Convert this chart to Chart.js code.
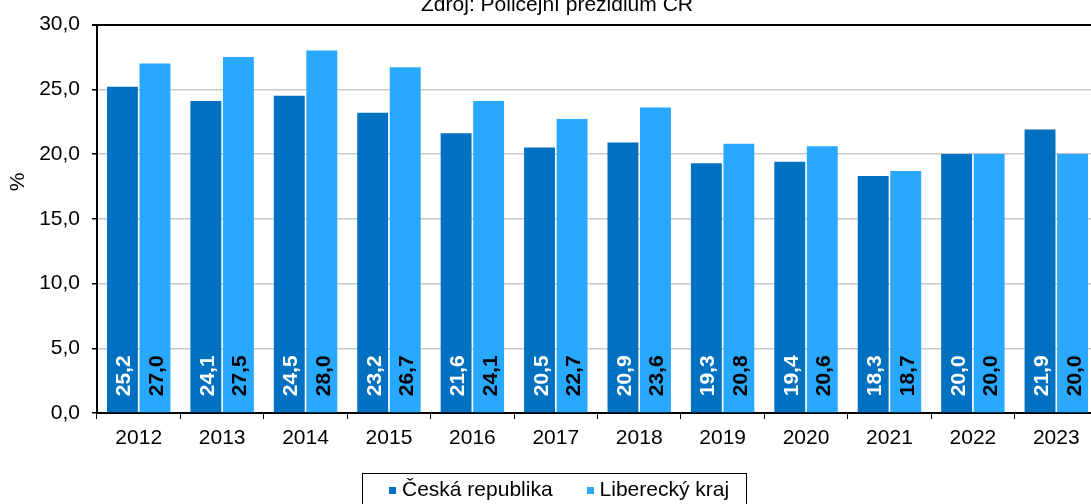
<!DOCTYPE html>
<html>
<head>
<meta charset="utf-8">
<script src="https://cdn.jsdelivr.net/npm/chart.js@4/dist/chart.umd.min.js"></script>
<style>
  html, body { margin: 0; padding: 0; overflow: hidden; background: #fff; }
  #wrap { position: relative; width: 1098px; height: 504px; }
  #legend {
    position: absolute; left: 362px; top: 473px; width: 385px; height: 40px;
    border: 1px solid #000; box-sizing: border-box;
    font: 21px "Liberation Sans", Arial, sans-serif; color: #000;
    display: flex; align-items: flex-start; justify-content: flex-start; gap: 34px;
    padding-left: 26px; padding-top: 3px;
  }
  #legend span.sw { display: inline-block; width: 7px; height: 7px; margin-right: 6px; vertical-align: 2px; }
</style>
</head>
<body>
<div id="wrap">
  <canvas id="myChart" width="1098" height="504"></canvas>
  <div id="legend"></div>
</div>
<script>
// Zdroj: Policejní prezidium ČR

const years = ['2012', '2013', '2014', '2015', '2016', '2017', '2018', '2019', '2020', '2021', '2022', '2023'];
const ceskaRepublika = [25.2, 24.1, 24.5, 23.2, 21.6, 20.5, 20.9, 19.3, 19.4, 18.3, 20.0, 21.9];
const liberecky = [27.0, 27.5, 28.0, 26.7, 24.1, 22.7, 23.6, 20.8, 20.6, 18.7, 20.0, 20.0];
const seriesNames = ['Česká republika', 'Liberecký kraj'];
const colors = ['#0070c0', '#29a8ff'];
const labelColors = ['#ffffff', '#000000'];

const fmt = v => v.toFixed(1).replace('.', ',');
const font = '"Liberation Sans", Arial, sans-serif';

const extras = {
    id: 'extras',
    afterDatasetsDraw(chart) {
        const ctx = chart.ctx;
        chart.data.datasets.forEach((ds, i) => {
            chart.getDatasetMeta(i).data.forEach((bar, j) => {
                ctx.save();
                ctx.translate(bar.x, bar.base - 16);
                ctx.rotate(-Math.PI / 2);
                ctx.font = 'bold 21px ' + font;
                ctx.fillStyle = labelColors[i];
                ctx.textAlign = 'left';
                ctx.textBaseline = 'alphabetic';
                ctx.fillText(fmt(ds.data[j]), 0, 8);
                ctx.restore();
            });
        });
    },
    afterDraw(chart) {
        const ctx = chart.ctx;
        ctx.save();
        ctx.fillStyle = '#000';
        ctx.font = '21px ' + font;
        ctx.textAlign = 'center';
        ctx.textBaseline = 'alphabetic';
        ctx.fillText('Zdroj: Policejní prezidium ČR', 557, 11);
        // y axis title
        ctx.translate(18, 182);
        ctx.rotate(-Math.PI / 2);
        ctx.textBaseline = 'middle';
        ctx.fillText('%', 0, 0);
        ctx.restore();
    }
};

function setup() {
    const ctx = document.getElementById('myChart').getContext('2d');
    new Chart(ctx, {
        type: 'bar',
        data: {
            labels: years,
            datasets: [ceskaRepublika, liberecky].map((d, i) => ({
                label: seriesNames[i],
                data: d,
                backgroundColor: colors[i],
                borderWidth: 0,
                categoryPercentage: 0.78,
                barPercentage: 0.95
            }))
        },
        options: {
            responsive: false,
            animation: false,
            layout: { padding: { top: 22, right: 0, bottom: 31, left: 0 } },
            plugins: { legend: { display: false }, tooltip: { enabled: false } },
            scales: {
                x: {
                    grid: { offset: true, drawOnChartArea: false, color: '#000', tickLength: 6 },
                    border: { color: '#000', width: 2 },
                    ticks: { color: '#000', font: { family: font, size: 21 }, padding: 7, maxRotation: 0 },
                    afterFit: s => { s.height = 60; }
                },
                y: {
                    min: 0, max: 30,
                    ticks: { stepSize: 5, color: '#000', font: { family: font, size: 21 }, padding: 12,
                             callback: v => fmt(v) },
                    grid: {
                        color: c => c.tick && c.tick.value === 30 ? '#000' : '#c8c8c8',
                        lineWidth: c => c.tick && c.tick.value === 30 ? 2 : 1.5,
                        tickColor: '#000', tickLength: 5
                    },
                    border: { color: '#000', width: 2 },
                    afterFit: s => { s.width = 97; }
                }
            }
        },
        plugins: [extras]
    });

    document.getElementById('legend').innerHTML = seriesNames.map((n, i) =>
        '<div><span class="sw" style="background:' + colors[i] + '"></span>' + n + '</div>').join('');
}

setup();
</script>
</body>
</html>
